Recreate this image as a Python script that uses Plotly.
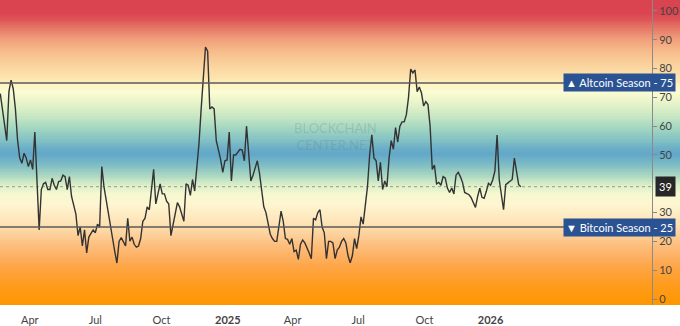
import plotly.graph_objects as go
import pandas as pd

# ---------------- data ----------------
start_date = "2024-02-20"
sample_step = "3D"
index_values = [
    71.3, 66, 60, 55, 72, 76, 73, 66, 55.2, 49,
    47.1, 50.6, 49, 46, 48.3, 45, 58, 40, 24, 38,
    40, 40.5, 38, 38, 41.9, 39.5, 38, 40.8, 41, 43,
    42.5, 38, 42.5, 35.6, 33, 29.5, 22, 25, 18.4, 24,
    16, 21.5, 22.8, 24, 23, 26, 25, 46, 39, 34.5,
    29, 24, 21, 16.5, 12.5, 20, 21.3, 20, 18.4, 28,
    20.1, 21.5, 19, 18, 18.4, 21, 27, 28, 32, 31,
    39, 45, 33, 37, 40, 36.5, 36.5, 34, 33, 22,
    26, 30, 33.5, 32, 29, 27, 40, 39.5, 36, 41.5,
    37.5, 45, 54, 66, 78, 87.5, 86, 66, 66.7, 66,
    55, 52, 48.5, 44, 48, 48.3, 58, 41, 50, 50,
    51, 52, 51.7, 48, 60, 49, 41, 43, 45.4, 48,
    43.7, 37, 32, 30, 26, 22.5, 21, 20, 20, 25,
    30.5, 27, 21, 20.7, 19, 21, 16.5, 17, 13.8, 19,
    20.5, 19.5, 18, 16, 14, 28, 27.5, 30, 31, 25,
    23, 14, 20, 20, 19.5, 14, 17, 18, 20, 21,
    19.5, 15, 12.6, 15, 21, 17.5, 22, 28.5, 26, 33.3,
    39, 50, 57, 49, 48, 41, 47.5, 38, 41, 39,
    49, 55, 52, 59.5, 54.5, 60, 61.5, 61.5, 64, 70,
    79.8, 78.5, 79.5, 72, 73.6, 71.5, 67, 68.5, 67.5, 60,
    45, 46.5, 40, 40.5, 39.5, 42.5, 42, 38.5, 37, 38.5,
    36.5, 43, 44, 42.5, 40.5, 37, 36.5, 36.2, 35.2, 33.6,
    31.8, 35.6, 38.5, 35.3, 35, 37.3, 40.2, 39.5, 41.4, 44.5,
    56.9, 41.4, 36, 31, 39.7, 40.2, 41, 41.5, 48.9, 44,
    39.7, 39,
]
dates = pd.date_range(start_date, periods=len(index_values), freq=sample_step)

tick_dates = ["2024-04-01", "2024-07-01", "2024-10-01", "2025-01-01",
              "2025-04-01", "2025-07-01", "2025-10-01", "2026-01-01"]
tick_labels = ["Apr", "Jul", "Oct", "<b>2025</b>", "Apr", "Jul", "Oct", "<b>2026</b>"]
# 40 is hidden behind the current-value tag in the reference
y_ticks = [0, 10, 20, 30, 50, 60, 70, 80, 90, 100]

altcoin_level = 75
bitcoin_level = 25
altcoin_label = "▲ Altcoin Season - 75"
bitcoin_label = "▼ Bitcoin Season - 25"
current_value = 39

# ---------------- background gradient (style) ----------------
grad_stops = [
    (-3, "#ff9600"), (0.3, "#ff9808"), (5.5, "#ff9c20"), (10.7, "#fea442"),
    (14.8, "#fdb062"), (19.3, "#fdc080"), (22.8, "#fdd29c"), (26.2, "#fde2b4"),
    (29.7, "#feecc4"), (33.1, "#fef6d0"), (36.6, "#f6f8d0"), (39.7, "#dcefc8"),
    (42.4, "#b4dcc2"), (45.2, "#90c8c3"), (47.9, "#74b6c6"), (50.3, "#62a7c8"),
    (52, "#68acc7"), (55.5, "#84c2c4"), (59, "#9fd4c1"), (62.4, "#bde3c2"),
    (65.9, "#d8eec6"), (69.3, "#eef6cc"), (72, "#fbfcd2"), (74.5, "#fdf4c6"),
    (76.9, "#fde4ae"), (79.7, "#fbd9a4"), (83.1, "#f9cb97"), (86.6, "#f6b98a"),
    (90, "#f1a27c"), (92.4, "#ea8a70"), (95.2, "#e46c61"), (96.9, "#de5757"),
    (99.3, "#da4551"), (106, "#d9434f"),
]
zmin, zmax = grad_stops[0][0], grad_stops[-1][0]
colorscale = [[(v - zmin) / (zmax - zmin), c] for v, c in grad_stops]
bg_y = [zmin + i * 0.5 for i in range(int((zmax - zmin) / 0.5) + 1)]

W, H = 680, 326
axis_px = 652
x_range = ["2024-02-19 14:38", "2026-09-21 01:26"]
y_range = [-2.07, 103.8]

fig = go.Figure()
fig.add_trace(go.Heatmap(
    x=x_range, y=bg_y, z=[[v, v] for v in bg_y],
    colorscale=colorscale, zmin=zmin, zmax=zmax, zsmooth="best",
    showscale=False, hoverinfo="skip",
))
fig.add_trace(go.Scatter(
    x=dates, y=index_values, mode="lines",
    line=dict(color="#333333", width=1.4), hoverinfo="skip",
))

ax_pos = axis_px / W
for lvl in (altcoin_level, bitcoin_level):
    fig.add_shape(type="line", xref="paper", yref="y", x0=0, x1=ax_pos, y0=lvl, y1=lvl,
                  line=dict(color="#5a5a5a", width=1.5))
fig.add_shape(type="line", xref="paper", yref="y", x0=0, x1=ax_pos,
              y0=current_value, y1=current_value,
              line=dict(color="rgba(80,90,90,0.55)", width=1, dash="dot"))

font_fam = "Lato"
for lvl, txt in ((altcoin_level, altcoin_label), (bitcoin_level, bitcoin_label)):
    fig.add_annotation(xref="paper", yref="y", x=676 / W, y=lvl, xanchor="right",
                       yanchor="middle", text=txt, showarrow=False,
                       bgcolor="#2b5394", borderpad=2,
                       font=dict(family=font_fam, size=11, color="white"))
fig.add_annotation(xref="paper", yref="y", x=676 / W, y=current_value, xanchor="right",
                   yanchor="middle", text=str(current_value), showarrow=False,
                   bgcolor="#262626", borderpad=3,
                   font=dict(family=font_fam, size=11, color="white"))
fig.add_annotation(xref="paper", yref="y", x=335 / W, y=56.5, xanchor="center",
                   yanchor="middle", text="BLOCKCHAIN<br>CENTER.NET", showarrow=False,
                   font=dict(family=font_fam, size=13, color="rgba(100,120,130,0.25)"))

fig.update_layout(
    width=W, height=H, autosize=False,
    margin=dict(l=0, r=0, t=0, b=19),
    paper_bgcolor="white", plot_bgcolor="rgba(0,0,0,0)",
    showlegend=False,
    xaxis=dict(range=x_range, tickvals=tick_dates, ticktext=tick_labels,
               showgrid=False, zeroline=False, showline=False,
               ticks="outside", ticklen=5, tickcolor="rgba(0,0,0,0)",
               tickfont=dict(family=font_fam, size=11, color="#444"), fixedrange=True),
    yaxis=dict(range=y_range, side="right", anchor="free", position=ax_pos,
               tickvals=y_ticks, ticks="outside", ticklen=4, tickcolor="#888",
               showline=True, linecolor="#8a8a8a", linewidth=1,
               showgrid=False, zeroline=False,
               tickfont=dict(family=font_fam, size=11, color="#444"), fixedrange=True),
)

fig.write_html("out.html", config={"displayModeBar": False})
